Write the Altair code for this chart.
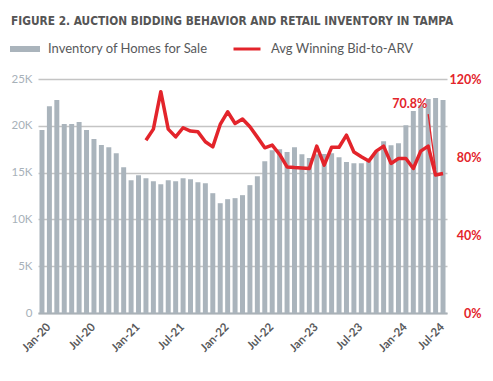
import altair as alt
import pandas as pd

month_names = ["Jan", "Feb", "Mar", "Apr", "May", "Jun", "Jul", "Aug", "Sep", "Oct", "Nov", "Dec"]
months = [f"{m}-{y}" for y in ["20", "21", "22", "23", "24"] for m in month_names][:55]
tick_labels = ["Jan-20", "Jul-20", "Jan-21", "Jul-21", "Jan-22", "Jul-22", "Jan-23", "Jul-23", "Jan-24", "Jul-24"]

inventory = [19540, 22100, 22750, 20180, 20180, 20400, 19540, 18580, 17940, 17720, 17080, 15580,
             14190, 14730, 14400, 14080, 13760, 14190, 14080, 14400, 14300, 13970, 13870, 12800,
             11730, 12160, 12270, 12590, 13660, 14620, 16220, 17400, 17500, 17190, 17720, 16970,
             16550, 16970, 17000, 17060, 16650, 16120, 16010, 16010, 16200, 17200, 18360, 17930,
             18140, 20070, 21570, 22200, 22850, 22750, 22960]

bid_months = months[14:]
bid_to_arv = [88.6, 94.3, 113.5, 94.3, 90.3, 95.0, 93.3, 92.9, 87.8, 85.2,
              96.7, 103.2, 97.2, 99.5, 95.5, 90.2, 84.7, 86.1, 81.3, 74.9,
              74.6, 74.4, 74.1, 85.6, 75.8, 85.0, 85.0, 91.2, 82.6, 80.1,
              77.9, 83.0, 85.6, 76.7, 79.2, 79.2, 74.1, 83.0, 85.6, 71.5, 70.8]

inv_name = "Inventory of Homes for Sale"
bid_name = "Avg Winning Bid-to-ARV"
title_text = "FIGURE 2. AUCTION BIDDING BEHAVIOR AND RETAIL INVENTORY IN TAMPA"

GRAY = "#aab4bc"
RED = "#e3242b"
DARK = "#58595b"

df_inv = pd.DataFrame({"month": months, "inventory": inventory, "series": inv_name})
df_bid = pd.DataFrame({"month": bid_months, "bid": bid_to_arv, "series": bid_name})
df_note = pd.DataFrame({
    "month": [bid_months[-3]], "month2": [bid_months[-1]],
    "top": [102.0], "bottom": [73.5], "label_y": [107.3],
    "label": [f"{bid_to_arv[-1]:.1f}%"],
})

x_enc = alt.X(
    "month:N", sort=months,
    scale=alt.Scale(paddingInner=0.33, paddingOuter=0.2),
    axis=alt.Axis(values=tick_labels, labelAngle=-45, title=None, ticks=False,
                  domainColor="#a9b1b7", domainWidth=2, labelColor=DARK,
                  labelFont="Lato", labelFontWeight="bold", labelFontSize=11.5,
                  labelPadding=8, labelOffset=3),
)

bars = alt.Chart(df_inv).mark_bar().encode(
    x=x_enc,
    y=alt.Y("inventory:Q", scale=alt.Scale(domain=[0, 25000]),
            axis=alt.Axis(values=[0, 5000, 10000, 15000, 20000, 25000],
                          labelExpr="datum.value == 0 ? '0' : datum.value / 1000 + 'K'",
                          title=None, domain=False, ticks=False, grid=True,
                          gridColor="#c4c4c4", gridWidth=1.3,
                          labelColor="#a7b1b9", labelFont="Lato", labelFontSize=11.5,
                          labelPadding=6)),
    fill=alt.Fill("series:N", scale=alt.Scale(domain=[inv_name], range=[GRAY]),
                  legend=alt.Legend(orient="none", legendX=-28, legendY=-45, title=None,
                                    symbolType="M-1,-0.2H1V0.2H-1Z", symbolSize=900,
                                    symbolStrokeWidth=0, labelFont="Lato",
                                    labelFontSize=13, labelColor=DARK, labelOffset=8,
                                    padding=0)),
)

y_right = alt.Scale(domain=[0, 120])

line = alt.Chart(df_bid).mark_line(strokeWidth=3.5, strokeJoin="round").encode(
    x=alt.X("month:N", sort=months),
    y=alt.Y("bid:Q", scale=y_right,
            axis=alt.Axis(orient="right", values=[0, 20, 40, 60, 80, 100, 120],
                          labelExpr="datum.value + '%'", title=None, domain=False,
                          ticks=False, grid=False, labelColor=RED, labelFont="Lato",
                          labelFontWeight="bold", labelFontSize=12.5,
                          labelAlign="right", labelPadding=34, labelOverlap=False)),
    stroke=alt.Stroke("series:N", scale=alt.Scale(domain=[bid_name], range=[RED]),
                      legend=alt.Legend(orient="none", legendX=194, legendY=-45, title=None,
                                        symbolType="stroke", symbolSize=729,
                                        symbolStrokeWidth=3, labelFont="Lato",
                                        labelFontSize=13, labelColor=DARK, labelOffset=9,
                                        padding=0)),
)

rule = alt.Chart(df_note).mark_rule(color=RED, strokeWidth=1.3).encode(
    x=alt.X("month:N", sort=months),
    x2="month2:N",
    y=alt.Y("top:Q", scale=y_right),
    y2="bottom:Q",
)

note = alt.Chart(df_note).mark_text(color=RED, font="Lato", fontWeight="bold", fontSize=12.5,
                                     align="right", baseline="middle", dx=-1).encode(
    x=alt.X("month:N", sort=months),
    y=alt.Y("label_y:Q", scale=y_right),
    text="label:N",
)

right_layer = alt.layer(line, rule, note)

chart = alt.layer(bars, right_layer).resolve_scale(y="independent", fill="independent", stroke="independent").properties(
    width=409, height=234,
    autosize=alt.AutoSizeParams(type="none"),
    padding={"left": 30, "top": 71, "right": 38, "bottom": 60},
    title=alt.TitleParams(title_text, anchor="start", frame="group",
                          font="'Liberation Sans Narrow', 'Arial Narrow', 'DejaVu Sans Condensed', sans-serif",
                          fontWeight="bold", fontSize=11.8, color="#555555",
                          dx=-27, offset=6),
).configure_view(stroke=None)

chart.save("out.html", embed_options={"renderer": "svg", "actions": False})
